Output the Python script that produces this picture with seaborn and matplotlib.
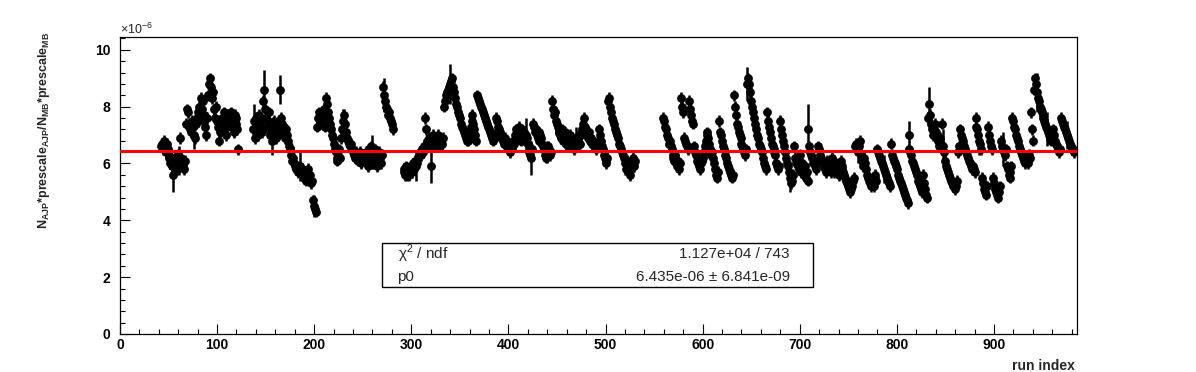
import numpy as np
import pandas as pd
import matplotlib
matplotlib.use('Agg')
import matplotlib.pyplot as plt
import seaborn as sns
from matplotlib.patches import Rectangle
from matplotlib.ticker import MultipleLocator

# ratio per run index, in units of 1e-6 in four blocks
block_start = [42, 137, 292, 559]

ratio_a = [6.6, 6.7, 6.5, 6.8, 6.6, 6.4, 6.7, 6.5, 6.3,
           6.2, 6.0, 6.1, 5.9, 5.6, 6.1, 6.2, 6.0, 5.8, 6.3, 6.1,
           6.9, 6.2, 6.0, 5.9, 5.8, 6.1, 7.4, 7.9,
           7.8, 7.4, 7.2, 7.1, 7.5, 7.3, 7.0, 6.9, 7.4, 7.6, 7.8,
           8.0, 7.7, 8.3, 7.9, 8.2, 7.5, 7.7, 7.3, 7.0, 7.6, 8.4,
           8.8, 9.0, 8.7, 8.3, 8.5, 7.9, 7.6, 8.0,
           7.5, 7.3, 6.8, 7.1, 7.4, 7.6, 7.2, 7.8, 7.5, 7.0, 7.3, 7.7, 7.4,
           7.6, 7.8, 7.3, 7.5, 7.1, 7.7, 7.4, 7.6, 7.2, 6.5]

ratio_b = [7.2, 7.5, 6.9, 7.6, 7.4, 7.0, 7.7, 7.3, 7.5, 7.1,
           8.2, 8.6, 7.9, 7.6, 7.3, 7.5, 7.8,
           7.2, 7.0, 7.4, 6.8, 7.1, 7.5, 7.3, 6.9, 7.2, 7.0, 7.4,
           8.6,
           7.6, 7.4, 7.1, 7.3, 6.9, 7.2, 7.0, 6.8, 6.6, 6.5,
           6.3, 6.1, 6.2, 6.0, 5.9, 5.8, 5.9, 5.7, 5.8,
           5.9, 5.7, 5.8, 5.6, 5.5, 5.7, 5.6, 5.4, 5.6, 5.8, 5.5, 5.6, 5.3, 5.4,
           4.7, 4.5, 4.4, 4.3,
           7.3, 7.6, 7.8, 7.5, 7.7, 7.4, 7.6, 7.9, 7.3, 8.3, 8.1, 7.8, 7.6,
           7.4, 7.2, 7.0, 6.9, 6.7, 6.5, 6.4, 6.2, 6.1, 6.3, 6.5, 6.2,
           6.9, 7.2, 7.5, 7.7, 7.4, 7.1, 6.9, 6.8, 6.7, 6.6, 6.7,
           6.5, 6.4, 6.3, 6.2, 6.4, 6.3, 6.1, 6.2, 6.4, 6.0, 6.3, 6.2, 6.1, 6.3,
           6.4, 6.2, 5.9, 6.5, 6.3, 6.1, 6.6, 6.4, 6.0, 6.2, 6.5, 6.3, 5.9, 6.1, 6.4, 6.2, 6.0, 6.3,
           8.7, 8.4, 8.2, 8.0, 7.9, 7.7, 7.8, 7.6, 7.5, 7.4, 7.2]

ratio_c = [5.7, 5.8, 5.6, 5.9, 5.7, 5.8, 5.6, 5.8, 5.9, 5.7, 6.0, 5.8, 6.1, 5.9, 6.0, 6.2,
           6.3, 6.4, 6.3, 6.5, 6.4, 6.6, 7.6, 7.2,
           6.8, 6.7, 6.9, 6.6, 5.9, 6.8, 7.0, 6.7, 6.9, 6.6, 6.8, 6.7, 7.0, 6.9, 6.6, 6.8, 6.7, 6.9,
           8.0, 8.2, 8.4, 8.5, 8.6, 8.7, 8.8, 8.9, 9.0, 8.7, 8.5, 8.3, 8.1, 8.0, 7.8, 7.7, 7.6, 7.4,
           7.3, 7.2, 7.1, 7.0, 6.9, 6.8,
           6.8, 6.9, 7.1, 7.3, 7.5, 7.7, 7.4, 7.2, 7.0, 6.8,
           8.4, 8.3, 8.2, 8.1, 8.0, 7.9, 7.8, 7.7, 7.6, 7.5, 7.4, 7.3, 7.2, 7.1, 7.0, 6.9, 6.8, 7.0, 6.9,
           7.6, 7.5, 7.3, 7.2, 7.1, 7.0, 6.9, 6.8, 6.7, 6.9,
           6.8, 6.7, 6.6, 6.5, 6.7, 6.4, 6.6, 6.5, 6.8, 6.7,
           7.0, 7.2, 6.9, 7.1, 7.3, 7.0, 6.8, 7.2, 6.9, 7.1, 6.8, 7.0, 6.9, 6.7,
           6.4, 6.3, 6.2, 6.5,
           7.4, 7.3, 7.1, 7.2, 7.0, 6.9, 7.1, 6.8, 7.0, 6.9,
           6.7, 6.6, 6.5, 6.3, 6.2, 6.4, 6.6, 6.5, 6.3, 6.4,
           8.2, 7.9, 7.7, 7.8, 7.5, 7.4, 7.3, 7.1,
           7.0, 6.9, 7.2, 6.8, 6.9, 7.1, 6.7, 6.9, 6.6, 6.8, 7.0, 6.7, 6.9, 6.6, 6.8, 6.5, 6.7, 6.9,
           6.6, 6.8, 7.0, 6.7,
           7.0, 7.2, 7.4, 7.6, 7.3, 7.1, 7.0, 6.9, 7.1, 6.8, 6.9, 6.7, 6.8, 6.6, 6.7, 6.5, 6.6, 6.8,
           7.2, 7.0, 6.8, 6.6, 6.5, 6.3, 6.2, 6.1, 6.0, 6.2,
           8.2, 8.3, 8.0, 7.8, 7.6, 7.5, 7.4, 7.2, 7.1, 7.0, 6.9, 6.7, 6.6, 6.5, 6.4, 6.3, 6.2,
           6.0, 5.8, 6.1, 5.9, 5.7, 5.6, 5.8, 6.0, 6.2, 5.9, 6.1]

ratio_d = [7.6, 7.5, 7.3, 7.2, 7.0, 6.9, 6.7, 6.8,
           6.6, 6.5, 6.3, 6.2, 6.1, 6.3, 6.0, 5.9, 6.1, 5.8, 6.0,
           8.3, 8.0, 7.8,
           6.9, 6.8, 6.7, 6.6, 6.5,
           8.2, 7.9, 7.7, 7.5, 7.4,
           6.6, 6.4, 6.3, 6.1, 6.0, 5.9, 5.8, 6.0, 6.1, 6.2,
           6.4, 6.6, 6.8, 7.0, 7.1, 6.9, 6.7, 6.5, 6.3, 6.4, 6.2, 6.0, 5.8, 5.6, 5.5, 5.7,
           7.5, 7.1, 7.0, 6.8, 6.6, 6.5, 6.3, 6.2, 6.0, 5.9, 5.8, 5.7, 5.6, 5.5, 5.6,
           8.4, 8.0, 7.7, 7.4, 7.3, 7.1, 7.0, 6.9, 6.7, 6.6, 6.5, 6.4, 6.3, 6.5,
           8.8, 9.0, 8.8, 8.5, 8.2, 8.0,
           7.8, 7.6, 7.4, 7.2, 7.0, 6.9, 6.7, 6.6, 6.5, 6.4,
           6.2, 6.0, 5.9, 5.8,
           7.8, 7.5, 7.3, 7.1, 6.9, 6.7, 6.6, 6.5, 6.4, 6.3,
           6.0, 5.9, 5.8, 5.9,
           7.5, 7.2, 7.0, 6.8, 6.6, 6.4, 6.2, 6.0, 5.9, 5.7,
           5.5, 5.3, 5.4, 5.6, 6.6,
           6.2, 6.0, 6.1, 5.9, 5.8, 6.3, 5.7, 6.0, 5.8, 5.6, 5.9, 5.5, 5.7, 5.4, 7.2, 6.6,
           6.4, 6.3, 6.2, 6.0, 6.1, 5.9, 5.8, 6.0, 6.6, 6.5, 6.3, 6.2, 6.1, 6.0, 5.9, 5.8, 5.7,
           6.1, 6.0, 5.9, 5.8, 5.7, 6.2, 6.0, 5.9,
           5.9, 6.0, 5.8, 5.7, 5.6, 6.0,
           6.1, 5.9, 5.8, 5.7, 5.6, 5.5, 5.4, 5.3, 5.2, 5.1, 5.0, 5.1, 5.2, 5.4, 5.5,
           6.6, 6.7, 6.5, 6.4, 6.6, 6.8, 6.3, 6.1, 5.9, 6.2, 6.0, 5.8,
           5.6, 5.5, 5.4, 5.3, 5.2, 5.4, 5.3, 5.2, 5.5, 5.6, 5.4,
           6.5, 6.4, 6.3, 6.2, 6.1, 6.0, 5.9, 5.8, 5.7, 5.6, 5.5, 5.4, 5.3, 5.2, 6.7, 6.3,
           6.2, 6.1, 6.0, 5.9, 5.8, 5.6, 5.5, 5.4, 5.3, 5.2, 5.1, 5.0, 4.9, 4.8, 4.7, 4.6, 7.0,
           6.5, 6.4, 6.3, 6.1, 6.0, 5.9, 5.8, 5.7, 5.6, 5.4, 5.3, 5.2, 5.1, 5.0, 5.6, 5.3, 5.1, 4.9, 4.8,
           7.6, 8.1, 7.7, 7.4, 7.2,
           7.0, 7.2, 7.4, 7.1, 6.9, 6.8, 6.6, 6.9, 6.7, 6.5, 7.4, 6.6, 6.4,
           6.1, 5.9, 5.8, 5.7, 5.6, 5.5, 5.4, 5.3, 5.2, 5.3, 5.1, 5.2, 5.4, 6.4, 6.6,
           7.2, 7.0, 6.9, 6.8, 6.6, 6.5, 6.4, 6.3, 6.2, 6.1, 6.0, 5.9, 5.8, 5.9, 5.8, 5.7,
           7.6, 7.3, 7.2, 7.0, 6.8, 6.7, 6.5,
           5.5, 5.3, 5.1, 5.0, 4.9, 5.2,
           7.3, 7.0, 6.8, 6.6, 6.5,
           5.5, 5.3, 5.1, 5.0, 4.9, 4.8, 5.0, 5.2,
           6.8, 6.6, 6.5, 6.4, 6.3, 6.5,
           5.9, 5.8, 5.6, 5.5, 5.7, 5.9,
           7.6, 7.5, 7.3, 7.2, 7.0, 6.9, 6.8, 6.6, 6.5, 6.4, 6.3,
           6.2, 6.1, 6.0, 6.2, 6.1, 6.0, 6.3, 6.2, 7.8, 7.2, 6.8,
           8.6, 9.0, 8.8, 8.5, 8.3, 8.2, 8.0, 7.9, 7.8, 7.7, 7.6, 7.5, 7.4, 7.3, 7.2, 7.1, 7.0, 6.9, 6.8, 7.0,
           7.2, 7.0, 6.8, 6.7, 6.6, 6.5, 6.4, 6.5,
           7.6, 7.5, 7.4, 7.3, 7.2, 7.1, 7.0, 6.9, 6.8, 6.7, 6.6, 6.5, 6.5, 6.4]

# error bars: most barely clear the marker, these runs show longer ones
err_small = 0.2
err_large = {55: 0.6, 61: 0.5, 76: 0.5, 84: 0.4, 96: 0.3, 108: 0.4, 138: 0.6, 148: 0.7,
             157: 0.5, 165: 0.5, 178: 0.4, 185: 0.5, 200: 0.4, 230: 0.4, 260: 0.6,
             272: 0.6, 296: 0.3, 305: 0.5, 320: 0.6, 340: 0.7, 418: 0.6, 423: 0.6,
             440: 0.4, 449: 0.5, 470: 0.4, 520: 0.4, 646: 0.6, 650: 0.5, 690: 0.5,
             709: 0.9, 735: 0.4, 760: 0.4, 787: 0.5, 812: 0.5, 833: 0.6, 848: 0.6,
             885: 0.5, 909: 0.6, 944: 0.7, 955: 0.6, 975: 0.5}

fit_p0 = 6.435
fit_chi2 = '1.127e+04 / 743'
fit_p0_text = '6.435e-06 ± 6.841e-09'

# build the table
runs, ratio = [], []
for start, block in zip(block_start, [ratio_a, ratio_b, ratio_c, ratio_d]):
    runs += list(range(start, start + len(block)))
    ratio += block
df = pd.DataFrame({'run': runs, 'ratio': ratio})
df['err'] = [err_large.get(r, err_small) for r in df['run']]

sns.set_style('ticks')
plt.rcParams['font.family'] = ['Liberation Sans', 'DejaVu Sans']
plt.rcParams['mathtext.fontset'] = 'custom'
plt.rcParams['mathtext.rm'] = 'Liberation Sans'
plt.rcParams['mathtext.bf'] = 'Liberation Sans:bold'

fig = plt.figure(figsize=(11.96, 3.72), dpi=100)
ax = fig.add_axes([0.1003, 0.1022, 0.8002, 0.7983])

ax.errorbar(df['run'], df['ratio'], yerr=df['err'], fmt='none',
            ecolor='black', elinewidth=1.8, capsize=0, zorder=2)
sns.scatterplot(data=df, x='run', y='ratio', color='black', s=40,
                linewidth=0, legend=False, ax=ax, zorder=3)
ax.axhline(fit_p0, color='red', lw=2.2, zorder=4)

ax.set_xlim(0, 985.5)
ax.set_ylim(0, 10.45)
ax.xaxis.set_major_locator(MultipleLocator(100))
ax.xaxis.set_minor_locator(MultipleLocator(20))
ax.yaxis.set_major_locator(MultipleLocator(2))
ax.yaxis.set_minor_locator(MultipleLocator(0.4))
ax.tick_params(which='both', direction='in', top=False, right=False, colors='black')
ax.tick_params(which='major', length=7, width=0.8, labelsize=10)
ax.tick_params(which='minor', length=3.5, width=0.8)
ax.tick_params(axis='x', pad=3)
ax.tick_params(axis='y', pad=7)
for lab in ax.get_xticklabels() + ax.get_yticklabels():
    lab.set_fontweight('bold')
for sp in ax.spines.values():
    sp.set_visible(True)
    sp.set_linewidth(0.9)
    sp.set_color('black')
ax.set_xlabel('')
ax.set_ylabel('')

fig.text(44 / 1196, 1 - 32 / 372,
         r'$\mathbf{N_{AJP}{*}prescale_{AJP}/N_{MB}{*}prescale_{MB}}$',
         rotation=90, ha='center', va='top', fontsize=9)
fig.text(1075 / 1196, 1 - 366 / 372, 'run index', ha='right', va='center',
         fontsize=10, fontweight='bold')
fig.text(120 / 1196, 1 - 29 / 372, '×10$^{-6}$', ha='left', va='center', fontsize=9)

# fit statistics box
ax.add_patch(Rectangle((0.2738, 0.158), 0.4503, 0.148, transform=ax.transAxes,
                       facecolor='white', edgecolor='black', lw=1, zorder=5))
ax.text(0.29, 0.269, 'χ$^{2}$ / ndf', transform=ax.transAxes, ha='left', va='center',
        fontsize=11, zorder=6)
ax.text(0.700, 0.269, fit_chi2, transform=ax.transAxes, ha='right', va='center',
        fontsize=11, zorder=6)
ax.text(0.29, 0.192, 'p0', transform=ax.transAxes, ha='left', va='center',
        fontsize=11, zorder=6)
ax.text(0.700, 0.192, fit_p0_text, transform=ax.transAxes, ha='right', va='center',
        fontsize=11, zorder=6)

fig.savefig('out.png', dpi=100, facecolor='white')
